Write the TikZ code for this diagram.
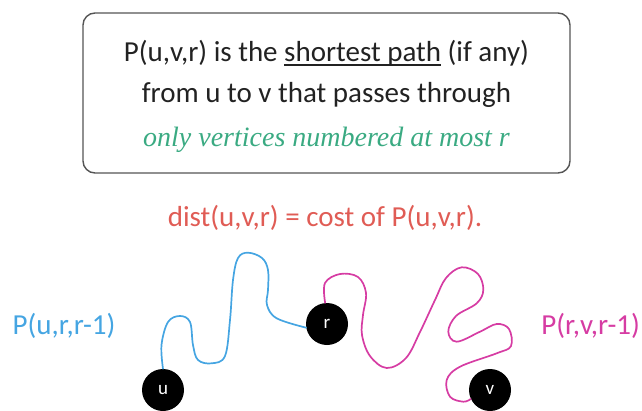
\documentclass[tikz,border=0pt]{standalone}
\usepackage{fontspec}
\setmainfont{Carlito}
\newfontfamily\serifit{Liberation Serif}
\definecolor{txtblack}{HTML}{222222}
\definecolor{boxgray}{HTML}{555555}
\definecolor{mygreen}{HTML}{3AAA82}
\definecolor{myred}{HTML}{E05C55}
\definecolor{myblue}{HTML}{45A5E2}
\definecolor{mymagenta}{HTML}{D63CA3}
\newcommand\myul[1]{\setbox0\hbox{#1}\rlap{\rule[-4.5pt]{\wd0}{1.2pt}}\box0\relax}
\tikzset{
  bigtext/.style={anchor=base, inner sep=0pt, font=\fontsize{29}{32}\selectfont},
  vertex/.style={circle, fill=black, text=white, minimum size=42pt, inner sep=0pt, font=\fontsize{19}{21}\selectfont},
  bluepath/.style={draw=myblue, line width=1.7pt, line cap=round},
  magpath/.style={draw=mymagenta, line width=1.7pt, line cap=round},
  framebox/.style={draw=boxgray, line width=1.4pt, rounded corners=12pt}
}
\begin{document}
\begin{tikzpicture}[x=1pt,y=-1pt]
\useasboundingbox (0,0) rectangle (642,410);
\draw[framebox] (83,13) rectangle (570,173);
\node[bigtext, text=txtblack] (l1) at (326.5,61) {P(u,v,r) is the \myul{shortest path} (if any)};
\node[bigtext, text=txtblack] (l2) at (326.5,102) {from u to v that passes through};
\node[bigtext, text=mygreen, font=\serifit\itshape\fontsize{28}{32}\selectfont] (l3) at (326.5,146.5) {only vertices numbered at most r};
\node[bigtext, text=myred] (dist) at (325,226) {dist(u,v,r) = cost of P(u,v,r).};
\node[bigtext, text=myblue] (lab1) at (64,334) {P(u,r,r-1)};
\node[bigtext, text=mymagenta, anchor=base east] (lab2) at (640,334) {P(r,v,r-1)};
\node[vertex] (u) at (163,390) {u};
\node[vertex] (r) at (327,324) {r};
\node[vertex] (v) at (490,390) {v};
\draw[bluepath] plot[smooth, tension=0.6] coordinates {
  (u.north) (161.5,345) (168,322) (180,316) (190,322) (193,345) (198,360)
  (211.7,363.3) (225,356) (230,320) (233,280) (238,258) (248,252.7)
  (262,258) (268,270) (268,290) (267,305) (276.7,318.3) (r.190)};
\draw[magpath] plot[smooth, tension=0.6] coordinates {
  (r.95) (325,283) (340,274) (358,277) (366,293) (363,315) (362,335)
  (370,356) (386.7,368) (406,358) (420,332) (435,300) (446,278)
  (461.7,267.3) (478,274) (483.3,290) (476.7,303.3) (456,316)
  (448.3,331.7) (456.7,341.7) (480,331.7) (496.7,324) (509,329)
  (511,346) (496.7,353.3) (460,366.7) (446.7,380) (450,396.7)
  (463.3,401.7) (v.205)};
\end{tikzpicture}
\end{document}
